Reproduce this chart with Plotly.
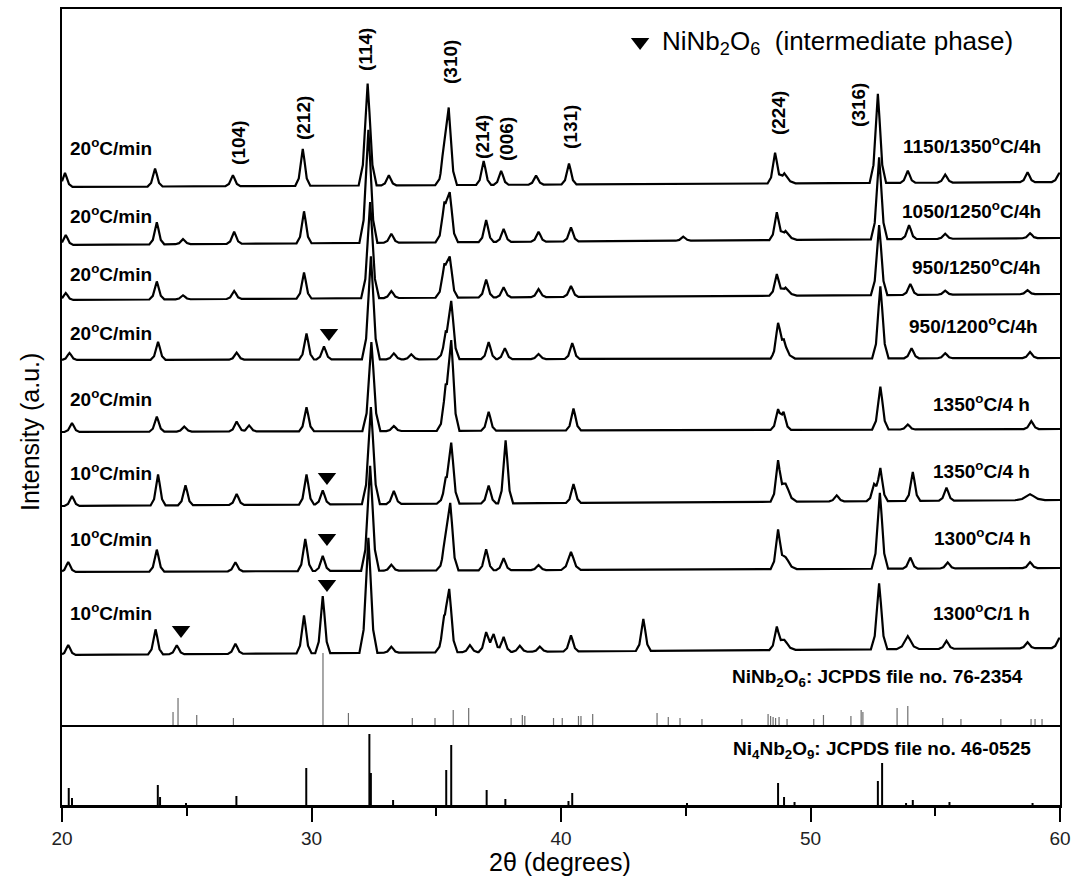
import numpy as np
import plotly.graph_objects as go

# ---------------- data ----------------
# Each pattern: [2theta, height above its baseline, (optional width factor)]
pattern_names = ["1150/1350°C/4h", "1050/1250°C/4h", "950/1250°C/4h", "950/1200°C/4h",
                 "1350°C/4 h (20)", "1350°C/4 h (10)", "1300°C/4 h", "1300°C/1 h"]

peaks_p1 = [[20.12, 14], [23.73, 18], [26.85, 11], [29.65, 37], [32.25, 102, 1.2], [33.1, 10],
            [35.32, 30, 1.2], [35.5, 70, 1.1], [36.9, 24], [37.6, 14], [39.0, 9], [40.32, 21],
            [48.58, 30], [48.95, 10, 1.5], [52.7, 89, 1.1], [53.9, 12], [55.4, 8], [58.7, 10], [59.97, 9]]
peaks_p2 = [[20.15, 10], [23.8, 22], [24.85, 5], [26.9, 12], [29.7, 32], [32.28, 113, 1.2], [33.2, 9],
            [35.33, 34, 1.2], [35.54, 44, 1.1], [37.0, 22], [37.7, 13], [39.1, 10], [40.4, 14], [44.9, 4],
            [48.65, 27], [49.0, 9, 1.5], [52.75, 82, 1.1], [53.95, 14], [55.4, 5], [58.8, 5]]
peaks_p3 = [[20.15, 7], [23.8, 18], [24.85, 4], [26.9, 8], [29.7, 26], [32.35, 96, 1.2], [33.2, 7],
            [35.33, 29, 1.2], [35.54, 36, 1.1], [37.0, 18], [37.7, 10], [39.1, 8], [40.4, 11],
            [48.65, 21], [49.0, 8, 1.5], [52.75, 70, 1.1], [54.0, 11], [55.4, 4], [58.7, 4]]
peaks_p4 = [[20.3, 7], [23.85, 18], [27.0, 7], [29.8, 26], [30.5, 13], [32.38, 103, 1.2], [33.3, 6],
            [34.0, 5], [35.38, 20, 1.2], [35.6, 55, 1.1], [37.1, 17], [37.75, 11], [39.1, 5], [40.45, 16],
            [48.7, 32], [48.93, 16, 1.5], [52.8, 72, 1.1], [54.05, 10], [55.4, 5], [58.8, 6]]
peaks_p5 = [[20.4, 9], [23.8, 15], [24.9, 5], [27.0, 10], [27.5, 6], [29.8, 24], [32.4, 89, 1.2],
            [33.3, 5], [35.38, 35, 1.2], [35.6, 85, 1.1], [37.1, 19], [40.5, 22], [48.7, 19], [48.92, 16],
            [52.8, 43, 1.1], [53.9, 5], [58.85, 8]]
peaks_p6 = [[20.4, 10], [23.85, 31], [24.95, 20], [27.0, 11], [29.8, 30], [30.45, 14], [32.38, 97, 1.2],
            [33.3, 13], [35.38, 18, 1.2], [35.6, 58, 1.1], [37.1, 18], [37.78, 63], [40.5, 19], [48.7, 39],
            [49.0, 18, 1.5], [51.05, 6], [52.55, 15], [52.8, 32], [54.1, 29], [55.45, 13], [58.8, 6, 2]]
peaks_p7 = [[20.25, 10], [23.8, 22], [26.95, 9], [29.75, 32], [30.45, 15], [32.35, 105, 1.2], [33.2, 6],
            [35.36, 24, 1.2], [35.56, 63, 1.1], [37.0, 21], [37.7, 12], [39.1, 5], [40.4, 18, 1.3], [48.7, 38],
            [49.0, 12, 1.5], [52.78, 76, 1.1], [54.0, 11], [55.5, 6], [58.8, 6]]
peaks_p8 = [[20.25, 10], [23.75, 25], [24.6, 9], [26.95, 10], [29.7, 38], [30.45, 57], [32.28, 115, 1.2],
            [33.2, 6], [35.32, 28, 1.2], [35.52, 58, 1.1], [36.35, 7], [37.0, 20], [37.3, 18], [37.7, 15],
            [38.35, 6], [39.15, 5], [40.4, 16], [43.3, 32], [48.65, 22], [48.95, 10, 1.5],
            [52.75, 66, 1.1], [53.9, 13, 1.5], [55.45, 8], [58.7, 6], [59.97, 10]]
patterns = [peaks_p1, peaks_p2, peaks_p3, peaks_p4, peaks_p5, peaks_p6, peaks_p7, peaks_p8]
baseline_rise = [5, 7, 6, 2, 3, 6, 4, 7]   # baseline drift from 20° to 60°

left_labels = ["20<sup>o</sup>C/min"] * 5 + ["10<sup>o</sup>C/min"] * 3
right_labels = ["1150/1350<sup>o</sup>C/4h", "1050/1250<sup>o</sup>C/4h", "950/1250<sup>o</sup>C/4h",
                "950/1200<sup>o</sup>C/4h", "1350<sup>o</sup>C/4 h", "1350<sup>o</sup>C/4 h",
                "1300<sup>o</sup>C/4 h", "1300<sup>o</sup>C/1 h"]

miller_labels = ["(104)", "(212)", "(114)", "(310)", "(214)", "(006)", "(131)", "(224)", "(316)"]

# NiNb2O6 marked peaks (2theta of each triangle)
marks_theta = [30.7, 30.62, 30.62, 30.62, 24.77]

# JCPDS reference sticks
ninb2o6_pos = [24.45, 24.65, 25.4, 26.87, 30.46, 31.48, 34.04, 34.95, 35.68, 36.3, 38.0, 38.45, 38.55,
               39.7, 40.05, 40.7, 40.8, 41.27, 43.85, 44.3, 44.77, 45.65, 47.25, 48.3, 48.4, 48.5,
               48.6, 48.74, 49.06, 50.13, 50.52, 51.62, 52.03, 52.1, 53.47, 53.9, 55.3, 56.03,
               57.63, 58.84, 59.0, 59.28]
ninb2o6_int = [13, 27, 10, 7, 72, 12, 7, 7, 15, 17, 7, 10, 9,
               7, 7, 9, 9, 11, 12, 8, 7, 6, 6, 11, 9, 8,
               7, 8, 6, 6, 10, 9, 15, 13, 17, 19, 7, 6,
               6, 6, 6, 6]
ni4nb2o9_pos = [20.27, 20.4, 23.84, 23.93, 24.97, 26.99, 29.79, 32.32, 32.38, 33.27, 35.4, 35.6,
                37.02, 37.77, 40.3, 40.45, 45.05, 48.7, 48.94, 49.36, 52.7, 52.87, 53.83, 54.1,
                55.57, 58.9]
ni4nb2o9_int = [17, 7, 20, 8, 2, 9, 37, 71, 32, 5, 35, 60,
                15, 6, 4, 12, 2, 22, 8, 3, 24, 42, 2, 5,
                3, 2]

# ---------------- layout constants (positions / styles) ----------------
offsets = [538, 480, 425, 365, 293, 219, 153, 70]          # stacking offsets (top-panel units)
prof_off = np.array([-0.3, -0.16, -0.06, 0.0, 0.06, 0.16, 0.3])
prof_frac = np.array([0.0, 0.2, 0.72, 1.0, 0.72, 0.2, 0.0])
FONT = "Arial, 'Liberation Sans', sans-serif"

left_label_y = [578, 510, 452, 393, 327, 253, 187, 113]
right_label_x = [59.32, 59.32, 59.32, 59.2, 58.88, 58.88, 58.92, 58.88]
right_label_y = [580, 515, 459, 400, 322, 255, 188, 113]
miller_x = [27.05, 29.66, 32.14, 35.55, 36.83, 37.8, 40.36, 48.7, 51.9]
miller_y = [582, 607, 676, 663, 588, 586, 598, 612, 620]
mark_y = [392, 248, 187, 141, 95]


def build_curve(peaks, rise):
    xs = [20.0, 60.0]
    for pk in peaks:
        w = pk[2] if len(pk) > 2 else 1.0
        xs.extend(pk[0] + prof_off * w)
    xs = np.unique(np.clip(np.array(xs), 20.0, 60.0))
    ys = rise * (xs - 20.0) / 40.0
    for pk in peaks:
        w = pk[2] if len(pk) > 2 else 1.0
        ys = ys + pk[1] * np.interp(xs, pk[0] + prof_off * w, prof_frac, left=0.0, right=0.0)
    return xs, ys


def sticks(pos, inten):
    sx, sy = [], []
    for p, h in zip(pos, inten):
        sx += [p, p, None]
        sy += [0, h, None]
    return sx, sy


fig = go.Figure()

for i, pk in enumerate(patterns):
    xs, ys = build_curve(pk, baseline_rise[i])
    fig.add_trace(go.Scatter(x=xs, y=ys + offsets[i], mode="lines", name=pattern_names[i],
                             line=dict(color="black", width=2.2), xaxis="x2", yaxis="y2",
                             showlegend=False, hoverinfo="skip"))

# NiNb2O6 reference sticks (gray, in the top panel)
sx, sy = sticks(ninb2o6_pos, ninb2o6_int)
fig.add_trace(go.Scatter(x=sx, y=sy, mode="lines", line=dict(color="#6e6e6e", width=1.2),
                         xaxis="x2", yaxis="y2", showlegend=False, hoverinfo="skip"))

# Ni4Nb2O9 reference sticks (black, bottom panel)
sx, sy = sticks(ni4nb2o9_pos, ni4nb2o9_int)
fig.add_trace(go.Scatter(x=sx, y=sy, mode="lines", line=dict(color="black", width=2),
                         xaxis="x", yaxis="y", showlegend=False, hoverinfo="skip"))

# triangle markers for the intermediate phase (+ legend symbol)
fig.add_trace(go.Scatter(x=marks_theta + [43.17], y=mark_y + [683], mode="markers",
                         marker=dict(symbol="triangle-down", size=16, color="black"),
                         xaxis="x2", yaxis="y2", showlegend=False, hoverinfo="skip"))

ann = []
for t, y in zip(left_labels, left_label_y):
    ann.append(dict(x=20.24, y=y, xref="x2", yref="y2", text="<b>" + t + "</b>", showarrow=False,
                    xanchor="left", yanchor="middle", font=dict(family=FONT, size=19, color="black")))
for t, x, y in zip(right_labels, right_label_x, right_label_y):
    ann.append(dict(x=x, y=y, xref="x2", yref="y2", text="<b>" + t + "</b>", showarrow=False,
                    xanchor="right", yanchor="middle", font=dict(family=FONT, size=19, color="black")))
for t, x, y in zip(miller_labels, miller_x, miller_y):
    ann.append(dict(x=x, y=y, xref="x2", yref="y2", text="<b>" + t + "</b>", showarrow=False,
                    textangle=-90, xanchor="center", yanchor="middle",
                    font=dict(family=FONT, size=19, color="black")))
ann.append(dict(x=43.97, y=683, xref="x2", yref="y2",
                text="NiNb<sub>2</sub>O<sub>6</sub>  (intermediate phase)", showarrow=False,
                xanchor="left", yanchor="middle", font=dict(family=FONT, size=26, color="black")))
ann.append(dict(x=58.6, y=47, xref="x2", yref="y2",
                text="<b>NiNb<sub>2</sub>O<sub>6</sub>: JCPDS file no. 76-2354</b>", showarrow=False,
                xanchor="right", yanchor="middle", font=dict(family=FONT, size=19, color="black")))
ann.append(dict(x=58.92, y=55, xref="x", yref="y",
                text="<b>Ni<sub>4</sub>Nb<sub>2</sub>O<sub>9</sub>: JCPDS file no. 46-0525</b>",
                showarrow=False, xanchor="right", yanchor="middle",
                font=dict(family=FONT, size=19, color="black")))
ann.append(dict(x=0.499, y=-0.0716, xref="paper", yref="paper", text="2θ (degrees)", showarrow=False,
                xanchor="center", yanchor="middle", font=dict(family=FONT, size=25, color="black")))
ann.append(dict(x=-0.032, y=0.4686, xref="paper", yref="paper", text="Intensity (a.u.)",
                showarrow=False, textangle=-90, xanchor="center", yanchor="middle",
                font=dict(family=FONT, size=25, color="black")))

split = 80.0 / 796.0
common = dict(automargin=False, showgrid=False, zeroline=False, linecolor="black")
fig.update_layout(
    width=1074, height=881, autosize=False,
    margin=dict(l=62, r=14, t=9, b=76, autoexpand=False),
    paper_bgcolor="white", plot_bgcolor="white",
    showlegend=False,
    font=dict(family=FONT, color="black"),
    xaxis=dict(domain=[0, 1], range=[20, 60], anchor="y", showline=True, linewidth=3,
               ticks="outside", ticklen=14, tickwidth=2, tickcolor="black",
               tickvals=[20, 30, 40, 50, 60], ticktext=["20", "30", "40", "50", "60"],
               tickfont=dict(family=FONT, size=19, color="#222"),
               minor=dict(tickvals=[25, 35, 45, 55], ticks="outside", ticklen=8, tickwidth=2,
                          tickcolor="black"),
               **common),
    yaxis=dict(domain=[0, split], range=[0, 80], anchor="x", showline=True, linewidth=2,
               mirror=True, showticklabels=False, ticks="", **common),
    xaxis2=dict(domain=[0, 1], range=[20, 60], anchor="y2", matches="x", showline=True,
                linewidth=2, mirror=True, showticklabels=False, ticks="", **common),
    yaxis2=dict(domain=[split, 1], range=[0, 716], anchor="x2", showline=True, linewidth=2,
                mirror=True, showticklabels=False, ticks="", **common),
    annotations=ann,
)

# remove the default 8 px page margin so the 1074x881 figure fills the window exactly
fig.write_html("out.html",
               config={"responsive": False, "displayModeBar": False, "staticPlot": True},
               post_script="document.body.style.margin='0';document.body.style.overflow='hidden';")
